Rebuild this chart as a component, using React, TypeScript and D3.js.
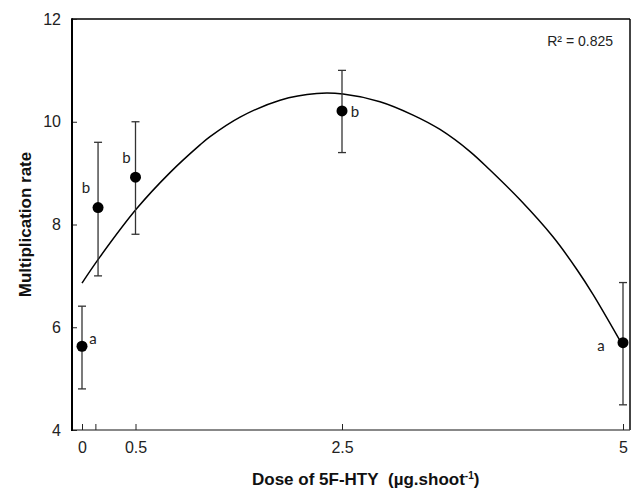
import React, { useEffect, useRef } from "react";
import * as d3 from "d3";

// measured points (dose, mean, error bar limits, letter)
const doses = [0, 0.15, 0.5, 2.5, 5];
const rates = [5.63, 8.33, 8.92, 10.21, 5.7];
const errLow = [4.8, 7.0, 7.81, 9.4, 4.49];
const errHigh = [6.41, 9.6, 10.0, 11.0, 6.87];
const letters = ["a", "b", "b", "b", "a"];

// polynomial trend line
const fitDoses = [0, 0.168, 0.512, 0.834, 1.125, 1.222, 1.513, 1.9, 2.255, 2.509, 2.838, 3.132, 3.372, 3.639, 3.817, 4.084, 4.377, 4.591, 4.733, 4.973];
const fitRates = [6.86, 7.37, 8.31, 9.01, 9.55, 9.71, 10.09, 10.42, 10.55, 10.54, 10.39, 10.13, 9.85, 9.42, 9.06, 8.48, 7.76, 7.12, 6.64, 5.74];

const xTicks = [0, 0.125, 0.5, 2.5, 5];
const xTickLabels = ["0", "", "0.5", "2.5", "5"];
const yTicks = [4, 6, 8, 10, 12];

const width = 638;
const height = 490;
const left = 72, right = 630, top = 19, bottom = 430;

// where the letters sit around each dot (px)
const letterOffsets = [
  [11, -8],
  [-12, -20],
  [-9, -19],
  [13, 1],
  [-22, 3],
];

export default function App() {
  const ref = useRef<SVGSVGElement>(null);

  useEffect(() => {
    const svg = d3.select(ref.current);
    svg.selectAll("*").remove();

    // the x axis of the original is not quite linear
    const x = d3.scaleLinear().domain([0, 0.5, 2.5, 5]).range([82, 135.5, 342, 623]);
    const y = d3.scaleLinear().domain([4, 12]).range([bottom, top]);

    const font = "'Liberation Sans', Arial, sans-serif";

    // frame
    svg.append("line").attr("x1", left).attr("x2", right).attr("y1", bottom).attr("y2", bottom)
      .attr("stroke", "#888").attr("stroke-width", 2);
    svg.append("line").attr("x1", right).attr("x2", right).attr("y1", top).attr("y2", bottom)
      .attr("stroke", "#444").attr("stroke-width", 2);
    svg.append("line").attr("x1", left).attr("x2", right).attr("y1", top).attr("y2", top)
      .attr("stroke", "#000").attr("stroke-width", 1.5);

    const yAxis = d3.axisLeft(y).tickValues(yTicks).tickSize(-5).tickPadding(11).tickFormat(d3.format("d"));
    const yG = svg.append("g").attr("transform", `translate(${left},0)`).call(yAxis);
    yG.select(".domain").remove();
    yG.selectAll("text").attr("font-size", 16).attr("font-family", font).attr("fill", "#222");
    yG.selectAll(".tick line").attr("stroke", "#222");

    const xAxis = d3.axisBottom(x).tickValues(xTicks).tickSize(-6).tickPadding(12)
      .tickFormat((d, i) => xTickLabels[i]);
    const xG = svg.append("g").attr("transform", `translate(0,${bottom})`).call(xAxis);
    xG.select(".domain").remove();
    xG.selectAll("text").attr("font-size", 16).attr("font-family", font).attr("fill", "#222");
    xG.selectAll(".tick line").attr("stroke", "#222");

    svg.append("line").attr("x1", left).attr("x2", left).attr("y1", top - 0.75).attr("y2", bottom + 1)
      .attr("stroke", "#000").attr("stroke-width", 2);

    // trend line
    const fit = fitDoses.map((d, i) => [d, fitRates[i]] as [number, number]);
    svg.append("path")
      .datum(fit)
      .attr("fill", "none")
      .attr("stroke", "#000")
      .attr("stroke-width", 1.5)
      .attr("d", d3.line<[number, number]>().x((d) => x(d[0])).y((d) => y(d[1])).curve(d3.curveCatmullRom));

    // error bars
    const pts = doses.map((d, i) => ({ d, v: rates[i], lo: errLow[i], hi: errHigh[i], l: letters[i], o: letterOffsets[i] }));
    const eb = svg.append("g").attr("stroke", "#333").attr("stroke-width", 1.3);
    pts.forEach((p) => {
      eb.append("line").attr("x1", x(p.d)).attr("x2", x(p.d)).attr("y1", y(p.lo)).attr("y2", y(p.hi));
      eb.append("line").attr("x1", x(p.d) - 4).attr("x2", x(p.d) + 4).attr("y1", y(p.lo)).attr("y2", y(p.lo));
      eb.append("line").attr("x1", x(p.d) - 4).attr("x2", x(p.d) + 4).attr("y1", y(p.hi)).attr("y2", y(p.hi));
    });

    svg.append("g").selectAll("circle").data(pts).enter().append("circle")
      .attr("cx", (p) => x(p.d)).attr("cy", (p) => y(p.v)).attr("r", 5.5).attr("fill", "#000");

    svg.append("g").selectAll("text").data(pts).enter().append("text")
      .attr("x", (p) => x(p.d) + p.o[0]).attr("y", (p) => y(p.v) + p.o[1])
      .attr("dy", "0.35em").attr("text-anchor", "middle")
      .attr("font-family", "Lato, 'Open Sans', sans-serif").attr("font-size", 15).attr("fill", "#222")
      .text((p) => p.l);

    svg.append("text").attr("x", 613).attr("y", 46).attr("text-anchor", "end")
      .attr("font-family", font).attr("font-size", 14).attr("fill", "#222").text("R² = 0.825");

    // axis titles
    svg.append("text")
      .attr("transform", `translate(31,${(top + bottom) / 2}) rotate(-90)`)
      .attr("text-anchor", "middle").attr("font-family", font).attr("font-weight", "bold")
      .attr("font-size", 17).attr("fill", "#111").text("Multiplication rate");

    const xt = svg.append("text").attr("x", 252).attr("y", 485).attr("text-anchor", "start")
      .attr("font-family", font).attr("font-weight", "bold").attr("font-size", 17).attr("fill", "#111")
      .attr("xml:space", "preserve");
    xt.append("tspan").text("Dose of 5F-HTY\u00a0 (µg.shoot");
    xt.append("tspan").attr("dy", -6).attr("font-size", 10).text("-1");
    xt.append("tspan").attr("dy", 6).text(")");
  }, []);

  return (
    <svg
      ref={ref}
      width={width}
      height={height}
      style={{ position: "absolute", left: 0, top: 0, background: "#fff" }}
    />
  );
}
